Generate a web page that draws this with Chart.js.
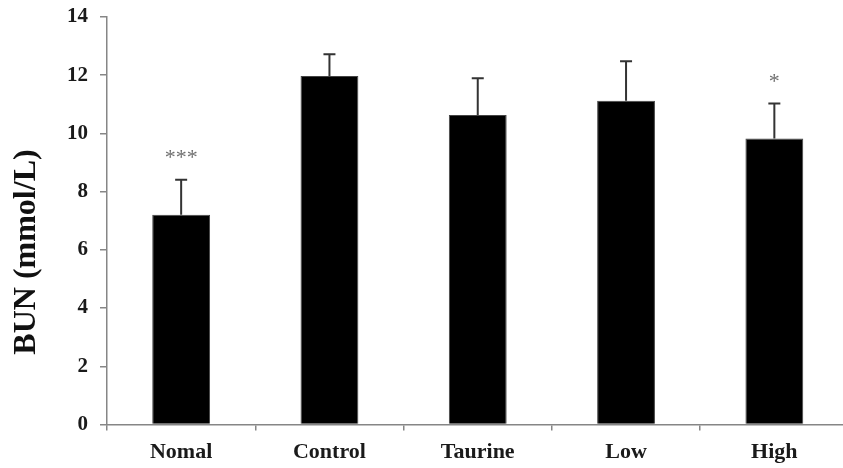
<!DOCTYPE html>
<html>
<head>
<meta charset="utf-8">
<script src="https://cdn.jsdelivr.net/npm/chart.js"></script>
<style>
  html, body { margin: 0; padding: 0; background: #fff; overflow: hidden; }
  #wrap { width: 860px; height: 468px; }
</style>
</head>
<body>
<div id="wrap"><canvas id="chart"></canvas></div>
<script>
const groups = ['Nomal', 'Control', 'Taurine', 'Low', 'High'];
const bunMeans = [7.21, 11.97, 10.63, 11.12, 9.83];
const bunErrors = [1.2, 0.75, 1.27, 1.36, 1.2];
const marks = ['***', '', '', '', '*'];
const yTicks = [0, 2, 4, 6, 8, 10, 12, 14];

const serif = '"Liberation Serif", "Times New Roman", serif';

// draws the upper error bars and the significance stars
const errorBarPlugin = {
    id: 'errorBars',
    afterDatasetsDraw(chart) {
        const ctx = chart.ctx;
        const yScale = chart.scales.y;
        const meta = chart.getDatasetMeta(0);
        ctx.save();
        meta.data.forEach((bar, i) => {
            const x = bar.x;
            const yTop = yScale.getPixelForValue(bunMeans[i] + bunErrors[i]);
            ctx.strokeStyle = '#333';
            ctx.lineWidth = 2;
            ctx.beginPath();
            ctx.moveTo(x, bar.y);
            ctx.lineTo(x, yTop);
            ctx.moveTo(x - 6, yTop);
            ctx.lineTo(x + 6, yTop);
            ctx.stroke();

            if (marks[i]) {
                ctx.fillStyle = '#6f6f6f';
                ctx.font = '22px ' + serif;
                ctx.textAlign = 'center';
                ctx.textBaseline = 'middle';
                ctx.fillText(marks[i], x, yTop - 21);
            }
        });
        ctx.restore();
    }
};

// y axis title, placed a bit below the middle as in the figure
const yTitlePlugin = {
    id: 'yTitle',
    afterDraw(chart) {
        const ctx = chart.ctx;
        ctx.save();
        ctx.translate(27, 252);
        ctx.rotate(-Math.PI / 2);
        ctx.fillStyle = '#111';
        ctx.font = 'bold 32px ' + serif;
        ctx.textAlign = 'center';
        ctx.textBaseline = 'middle';
        ctx.fillText('BUN (mmol/L)', 0, 0);
        ctx.restore();
    }
};

new Chart(document.getElementById('chart'), {
    type: 'bar',
    data: {
        labels: groups,
        datasets: [{
            data: bunMeans,
            backgroundColor: '#000',
            borderColor: '#444',
            borderWidth: 1,
            categoryPercentage: 1,
            barPercentage: 0.39
        }]
    },
    options: {
        responsive: true,
        maintainAspectRatio: false,
        animation: false,
        layout: { padding: { top: 17, right: 11.5, bottom: 0, left: 0 } },
        plugins: {
            legend: { display: false },
            tooltip: { enabled: false }
        },
        scales: {
            x: {
                grid: {
                    offset: true,
                    drawOnChartArea: false,
                    drawTicks: true,
                    tickLength: 6,
                    color: '#868686',
                    lineWidth: 1.5
                },
                border: { color: '#868686', width: 1.5 },
                ticks: {
                    color: '#1a1a1a',
                    padding: 9,
                    font: { family: serif, size: 22, weight: 'bold' }
                },
                afterFit(scale) {
                    scale.height = 43.5;
                    scale.paddingLeft = 0;
                    scale.paddingRight = 0;
                }
            },
            y: {
                min: 0,
                max: 14,
                afterBuildTicks(scale) {
                    scale.ticks = yTicks.map(v => ({ value: v }));
                },
                grid: {
                    drawOnChartArea: false,
                    drawTicks: true,
                    tickLength: 7,
                    color: '#868686',
                    lineWidth: 1.5
                },
                border: { color: '#868686', width: 1.5 },
                ticks: {
                    color: '#1a1a1a',
                    padding: 12,
                    font: { family: serif, size: 21, weight: 'bold' }
                },
                afterFit(scale) {
                    scale.width = 107;
                    scale.paddingTop = 0;
                    scale.paddingBottom = 0;
                }
            }
        }
    },
    plugins: [errorBarPlugin, yTitlePlugin]
});
</script>
</body>
</html>
